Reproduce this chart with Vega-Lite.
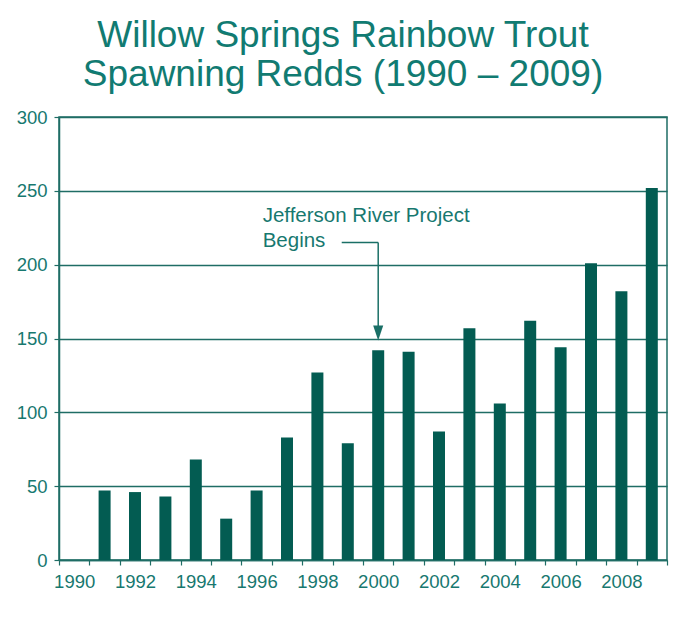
{
  "$schema": "https://vega.github.io/schema/vega-lite/v6.json",
  "width": 608,
  "height": 443,
  "autosize": {"type": "none"},
  "padding": {"left": 59, "top": 117, "right": 15, "bottom": 57},
  "background": "white",
  "config": {
    "view": {"stroke": "#1f6d65", "strokeWidth": 1.5},
    "font": "Liberation Sans"
  },
  "title": {
    "text": ["Willow Springs Rainbow Trout", "Spawning Redds (1990 – 2009)"],
    "font": "Liberation Sans",
    "fontSize": 37,
    "fontWeight": "normal",
    "lineHeight": 39,
    "color": "#117b72",
    "anchor": "middle",
    "frame": "group",
    "dx": -20,
    "offset": 14
  },
  "datasets": {
    "redds": [
      {"year": 1991, "redds": 47},
      {"year": 1992, "redds": 46},
      {"year": 1993, "redds": 43},
      {"year": 1994, "redds": 68},
      {"year": 1995, "redds": 28},
      {"year": 1996, "redds": 47},
      {"year": 1997, "redds": 83},
      {"year": 1998, "redds": 127},
      {"year": 1999, "redds": 79},
      {"year": 2000, "redds": 142},
      {"year": 2001, "redds": 141},
      {"year": 2002, "redds": 87},
      {"year": 2003, "redds": 157},
      {"year": 2004, "redds": 106},
      {"year": 2005, "redds": 162},
      {"year": 2006, "redds": 144},
      {"year": 2007, "redds": 201},
      {"year": 2008, "redds": 182},
      {"year": 2009, "redds": 252}
    ],
    "arrow": [
      {"x": 1998.8, "x2": 2000, "y": 215, "y2": 215},
      {"x": 2000, "x2": 2000, "y": 215, "y2": 155}
    ],
    "head": [{"x": 2000, "y": 153.7}],
    "note": [
      {"x": 1996.2, "y": 229, "text": "Jefferson River Project"},
      {"x": 1996.2, "y": 212, "text": "Begins"}
    ]
  },
  "resolve": {"axis": {"x": "independent", "y": "independent"}},
  "layer": [
    {
      "data": {"name": "redds"},
      "mark": {"type": "bar", "width": 12, "color": "#035c52"},
      "encoding": {
        "x": {
          "field": "year", "type": "quantitative",
          "scale": {"domain": [1989.5, 2009.5], "nice": false, "zero": false, "padding": 0},
          "axis": {
            "orient": "bottom",
            "values": [1989.5, 1990.5, 1991.5, 1992.5, 1993.5, 1994.5, 1995.5, 1996.5, 1997.5, 1998.5, 1999.5, 2000.5, 2001.5, 2002.5, 2003.5, 2004.5, 2005.5, 2006.5, 2007.5, 2008.5, 2009.5],
            "labels": false, "grid": false, "title": null,
            "ticks": true, "tickSize": 5, "tickColor": "#1f6d65", "tickWidth": 1.2,
            "domain": true, "domainColor": "#1f6d65", "domainWidth": 1.5
          }
        },
        "y": {
          "field": "redds", "type": "quantitative",
          "scale": {"domain": [0, 300], "nice": false, "padding": 0},
          "axis": {
            "orient": "left",
            "values": [0, 50, 100, 150, 200, 250, 300],
            "title": null, "grid": true, "gridColor": "#1f6d65", "gridWidth": 1.5,
            "ticks": true, "tickSize": 5, "tickColor": "#1f6d65", "tickWidth": 1.2,
            "domain": true, "domainColor": "#1f6d65", "domainWidth": 1.5,
            "labelFont": "Liberation Sans", "labelFontSize": 18.5,
            "labelColor": "#17786f", "labelPadding": 7
          }
        }
      }
    },
    {
      "data": {"name": "arrow"},
      "mark": {"type": "rule", "color": "#1a6f66", "strokeWidth": 1.5},
      "encoding": {
        "x": {
          "field": "x", "type": "quantitative",
          "scale": {"domain": [1989.5, 2009.5], "nice": false, "zero": false, "padding": 0},
          "axis": {
            "orient": "bottom",
            "values": [1990, 1992, 1994, 1996, 1998, 2000, 2002, 2004, 2006, 2008],
            "format": "d", "title": null, "grid": false, "ticks": false, "domain": false,
            "labelFont": "Liberation Sans", "labelFontSize": 18.5,
            "labelColor": "#17786f", "labelPadding": 12
          }
        },
        "x2": {"field": "x2"},
        "y": {"field": "y", "type": "quantitative", "scale": {"domain": [0, 300], "nice": false, "padding": 0}, "axis": null},
        "y2": {"field": "y2"}
      }
    },
    {
      "data": {"name": "head"},
      "mark": {"type": "point", "shape": "M-0.67,-1L0.67,-1L0,1Z", "size": 225, "filled": true, "color": "#1a6f66", "opacity": 1},
      "encoding": {
        "x": {"field": "x", "type": "quantitative", "scale": {"domain": [1989.5, 2009.5], "nice": false, "zero": false, "padding": 0}, "axis": null},
        "y": {"field": "y", "type": "quantitative", "scale": {"domain": [0, 300], "nice": false, "padding": 0}, "axis": null}
      }
    },
    {
      "data": {"name": "note"},
      "mark": {"type": "text", "align": "left", "baseline": "alphabetic", "font": "Liberation Sans", "fontSize": 20.5, "color": "#17786f"},
      "encoding": {
        "x": {"field": "x", "type": "quantitative", "scale": {"domain": [1989.5, 2009.5], "nice": false, "zero": false, "padding": 0}, "axis": null},
        "y": {"field": "y", "type": "quantitative", "scale": {"domain": [0, 300], "nice": false, "padding": 0}, "axis": null},
        "text": {"field": "text"}
      }
    }
  ]
}
